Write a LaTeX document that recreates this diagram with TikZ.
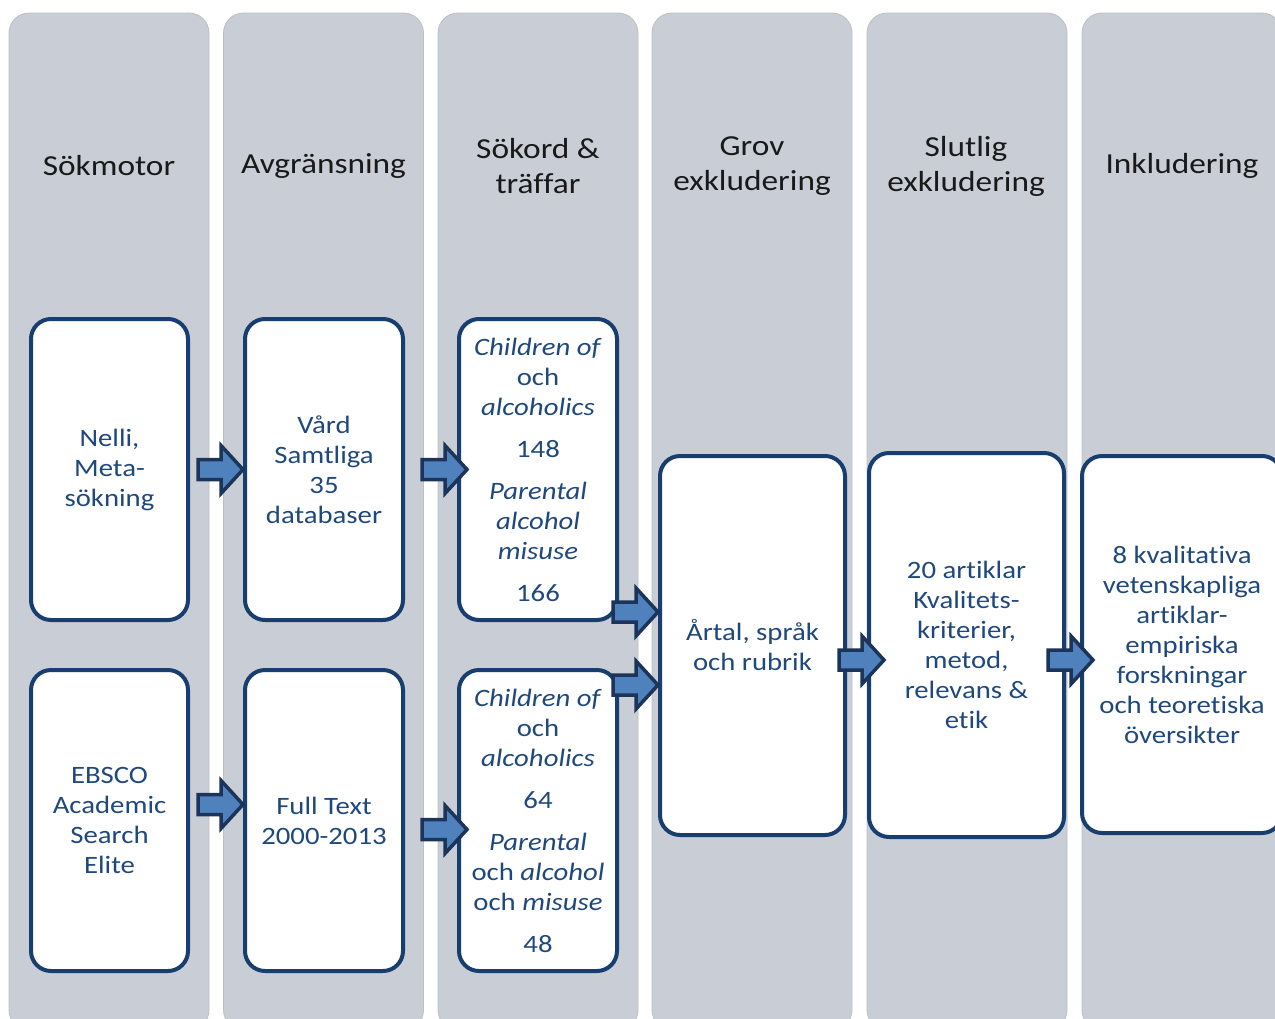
\documentclass[tikz,border=0pt]{standalone}
\usepackage{fontspec}
\setmainfont{Carlito}[FakeStretch=1.15, Ligatures={NoCommon}]
\usetikzlibrary{calc}
\definecolor{colgray}{RGB}{201,206,214}
\definecolor{coledge}{RGB}{188,191,197}
\definecolor{boxline}{RGB}{23,62,110}
\definecolor{txtblue}{RGB}{31,73,125}
\definecolor{arrfill}{RGB}{79,129,189}
\definecolor{arrline}{RGB}{28,52,90}
\definecolor{headtxt}{RGB}{25,25,25}
\tikzset{
  colbox/.style={draw=coledge, line width=0.8pt, fill=colgray, rounded corners=20pt, minimum width=200pt, minimum height=1017pt, inner sep=0pt},
  stepbox/.style={draw=boxline, line width=4pt, fill=white, rounded corners=20pt, align=center, text=txtblue, font=\fontsize{25}{30}\selectfont, inner sep=0pt},
  headtext/.style={align=center, text=headtxt, font=\fontsize{29}{35}\selectfont},
  arrsty/.style={draw=arrline, fill=arrfill, line width=3.5pt, line join=miter},
  barrow/.pic={\draw[arrsty] (0,0) -- (-22,-24) -- (-22,-10) -- (-45,-10) -- (-45,10) -- (-22,10) -- (-22,24) -- cycle;}
}
\begin{document}
\begin{tikzpicture}[x=1pt,y=-1pt]
\useasboundingbox (0,0) rectangle (1275,1018);
\clip (0,0) rectangle (1275,1018);
\fill[white] (0,0) rectangle (1275,1018);
% columns
\node[colbox] (col1) at (109,521.5) {};
\node[colbox] (col2) at (323.5,521.5) {};
\node[colbox] (col3) at (538,521.5) {};
\node[colbox] (col4) at (752,521.5) {};
\node[colbox] (col5) at (967,521.5) {};
\node[colbox] (col6) at (1182,521.5) {};
% headers
\node[headtext] (h1) at (109,166) {Sökmotor};
\node[headtext] (h2) at (323.5,166) {Avgränsning};
\node[headtext] (h3) at (538,166.5) {Sökord \&\\träffar};
\node[headtext] (h4) at (752,166.5) {Grov\\exkludering};
\node[headtext] (h5) at (966,166.5) {Slutlig\\exkludering};
\node[headtext] (h6) at (1182,166) {Inkludering};
% boxes row 1
\node[stepbox, minimum width=157pt, minimum height=301pt] (b11) at (109.5,469.5) {Nelli,\\Meta-\\sökning};
\node[stepbox, minimum width=158pt, minimum height=301pt] (b12) at (324,469.5) {Vård\\Samtliga\\35\\databaser};
\node[stepbox, minimum width=158pt, minimum height=301pt] (b13) at (538,469.5) {\textit{Children of}\\och\\\textit{alcoholics}\\[12pt]148\\[12pt]\textit{Parental}\\\textit{alcohol}\\\textit{misuse}\\[12pt]166};
% boxes row 2
\node[stepbox, minimum width=157pt, minimum height=301pt] (b21) at (109.5,820.5) {EBSCO\\Academic\\Search\\Elite};
\node[stepbox, minimum width=158pt, minimum height=301pt] (b22) at (324,820.5) {Full Text\\2000-2013};
\node[stepbox, minimum width=158pt, minimum height=301pt] (b23) at (538,820.5) {\textit{Children of}\\och\\\textit{alcoholics}\\[12pt]64\\[12pt]\textit{Parental}\\och \textit{alcohol}\\och \textit{misuse}\\[12pt]48};
% later boxes
\node[stepbox, minimum width=185pt, minimum height=379pt] (b4) at (752.5,645.5) {Årtal, språk\\och rubrik};
\node[stepbox, minimum width=195pt, minimum height=384pt] (b5) at (966.5,645) {20 artiklar\\Kvalitets-\\kriterier,\\metod,\\relevans \&\\etik};
\node[stepbox, minimum width=200pt, minimum height=377pt] (b6) at (1182,644.5) {8 kvalitativa\\vetenskapliga\\artiklar-\\empiriska\\forskningar\\och teoretiska\\översikter};
% block arrows
\pic at (b12.west) {barrow};
\pic at ($(b22.west)+(0,-16)$) {barrow};
\pic at ($(b13.west)+(10,0)$) {barrow};
\pic at ($(b23.west)+(10,9)$) {barrow};
\pic at ($(b4.west)+(0,-33.5)$) {barrow};
\pic at ($(b4.west)+(0,39.5)$) {barrow};
\pic at ($(b5.west)+(17,15)$) {barrow};
\pic at ($(b6.west)+(13,15.5)$) {barrow};
\end{tikzpicture}
\end{document}
